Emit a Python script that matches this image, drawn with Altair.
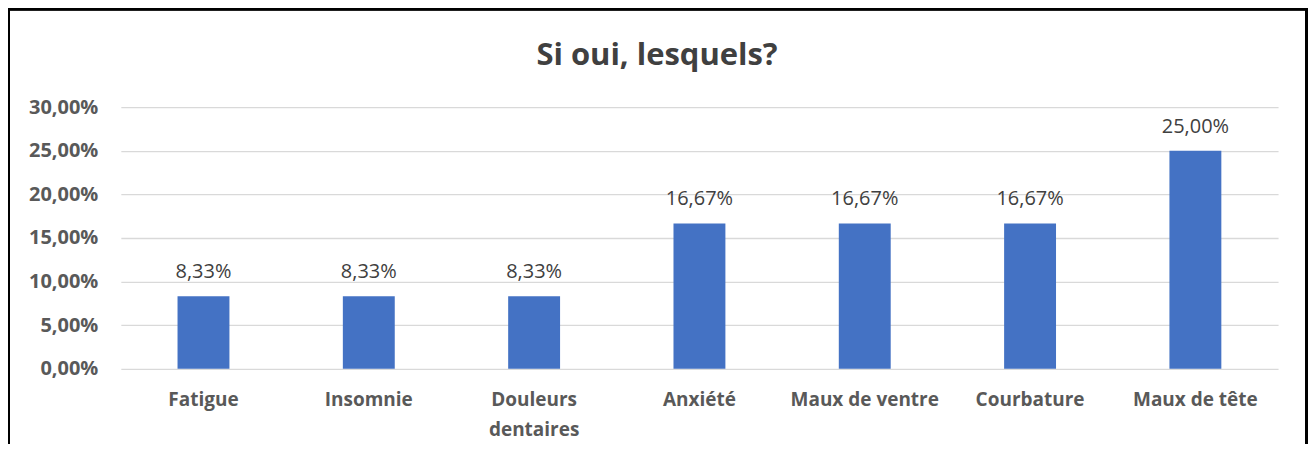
import altair as alt
import pandas as pd

categories = ["Fatigue", "Insomnie", "Douleurs dentaires", "Anxiété",
              "Maux de ventre", "Courbature", "Maux de tête"]
values = [8.33, 8.33, 8.33, 16.67, 16.67, 16.67, 25.00]
y_ticks = [0, 5, 10, 15, 20, 25, 30]

df = pd.DataFrame({"cat": categories, "val": values})

FONT = "Open Sans"

x = alt.X("cat:N", sort=categories, title=None,
          scale=alt.Scale(paddingInner=0.686, paddingOuter=0.343),
          axis=alt.Axis(labelAngle=0, labelFont=FONT, labelFontSize=19,
                        labelFontWeight="bold", labelColor="#595959",
                        labelPadding=22, labelLineHeight=30, ticks=False,
                        domain=False, grid=False,
                        labelExpr="datum.label == 'Douleurs dentaires' ? ['Douleurs', 'dentaires'] : datum.label"))
y = alt.Y("val:Q", title=None,
          scale=alt.Scale(domain=[0, 30], nice=False),
          axis=alt.Axis(values=y_ticks, labelFont=FONT, labelFontSize=20,
                        labelFontWeight="bold", labelColor="#595959",
                        labelPadding=23, ticks=False, domain=False,
                        grid=True, gridColor="#d9d9d9", gridWidth=1.3,
                        labelExpr="replace(format(datum.value, '.2f'), '.', ',') + '%'"))

bars = alt.Chart(df).mark_bar(color="#4472C4").encode(x=x, y=y)

labels = alt.Chart(df).transform_calculate(
    lab="replace(format(datum.val, '.2f'), '.', ',') + '%'"
).mark_text(font=FONT, fontSize=20, color="#404040", baseline="alphabetic", dy=-18).encode(
    x=alt.X("cat:N", sort=categories), y="val:Q", text="lab:N")

frame = alt.Chart(df).mark_rect(filled=False, stroke="black", strokeWidth=3).encode(
    x=alt.value(-112.5), x2=alt.value(1187.5), y=alt.value(-98.5), y2=alt.value(400))

chart = alt.layer(bars, labels, frame).properties(
    width=1159, height=262,
    background="white",
    title=alt.TitleParams("Si oui, lesquels?", font=FONT, fontSize=31,
                          fontWeight="bold", color="#404040", anchor="middle",
                          frame="group", dx=-42.5, baseline="alphabetic", offset=-89),
    autosize=alt.AutoSizeParams(type="none"),
    padding={"left": 113, "top": 99, "right": 30, "bottom": 75},
).configure_view(stroke=None)

chart.save("out.html", embed_options={"renderer": "svg", "actions": False})
